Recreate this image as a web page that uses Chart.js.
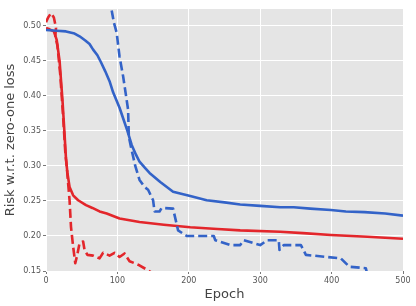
<!DOCTYPE html>
<html><head><meta charset="utf-8">
<script src="https://cdn.jsdelivr.net/npm/chart.js@4/dist/chart.umd.min.js"></script>
<style>html,body{margin:0;padding:0;background:#fff}#wrap{width:416px;height:306px}</style>
</head><body><div id="wrap"><canvas id="c" width="416" height="306"></canvas></div>
<script>
const yTicks = [0.15, 0.20, 0.25, 0.30, 0.35, 0.40, 0.45, 0.50];
const xTicks = [0, 100, 200, 300, 400, 500];

const redSolidEpoch = [0,5,11,15,19,23,26,28,30,33,38,45,56,65,75,85,103,131,165,202,240,272,328,360,399,450,500];
const redSolidRisk  = [0.497,0.495,0.492,0.48,0.45,0.395,0.345,0.31,0.29,0.27,0.258,0.251,0.244,0.24,0.235,0.232,0.225,0.22,0.216,0.2124,0.21,0.208,0.206,0.204,0.2014,0.199,0.196];

const redDashEpoch = [0,3,7,11,14,13,16,20,24,27,29,31,33,35,38,41,44,47,52,54,58,66,75,80,89,96,103,110,117,129,143,150];
const redDashRisk  = [0.505,0.512,0.518,0.512,0.497,0.485,0.472,0.43,0.37,0.32,0.30,0.275,0.251,0.213,0.185,0.161,0.174,0.19,0.192,0.18,0.173,0.172,0.168,0.176,0.172,0.176,0.17,0.175,0.164,0.159,0.151,0.146];

const blueSolidEpoch = [0,15,28,40,47,55,61,66,72,77,83,89,94,103,108,114,120,126,131,138,145,160,178,202,225,250,272,300,328,347,370,399,420,446,475,500];
const blueSolidRisk  = [0.494,0.493,0.492,0.489,0.485,0.479,0.474,0.466,0.458,0.448,0.435,0.421,0.405,0.383,0.368,0.35,0.33,0.316,0.306,0.298,0.29,0.277,0.263,0.257,0.251,0.248,0.245,0.243,0.241,0.241,0.239,0.237,0.235,0.234,0.232,0.229];

const blueDashEpoch = [92,95,99,103,108,113,115,116,119,125,131,138,143,150,152,159,162,178,185,197,235,237,258,272,277,300,310,326,327,333,357,364,413,425,448,450];
const blueDashRisk  = [0.522,0.505,0.49,0.456,0.428,0.394,0.38,0.342,0.327,0.30,0.28,0.27,0.266,0.251,0.235,0.235,0.24,0.239,0.208,0.2,0.2,0.194,0.187,0.187,0.194,0.187,0.194,0.194,0.18,0.187,0.187,0.173,0.168,0.156,0.154,0.145];

const RED = '#e3262b', BLUE = '#3363c8';
const pts = (xs, ys) => xs.map((x, i) => ({x: x, y: ys[i]}));
const ds = (xs, ys, color, dashed) => ({
  data: pts(xs, ys), borderColor: color, borderWidth: 2.6, pointRadius: 0,
  tension: 0, fill: false, borderDash: dashed ? [9, 4] : [], borderCapStyle: 'butt', borderJoinStyle: 'round'
});

const bgPlugin = {
  id: 'bg',
  beforeDraw(chart) {
    const a = chart.chartArea, ctx = chart.ctx;
    ctx.save(); ctx.fillStyle = '#e5e5e5';
    ctx.fillRect(a.left, a.top, a.right - a.left, a.bottom - a.top);
    ctx.restore();
  }
};

new Chart(document.getElementById('c'), {
  type: 'line',
  data: { datasets: [
    ds(blueSolidEpoch, blueSolidRisk, BLUE, false),
    ds(blueDashEpoch, blueDashRisk, BLUE, true),
    ds(redSolidEpoch, redSolidRisk, RED, false),
    ds(redDashEpoch, redDashRisk, RED, true)
  ]},
  options: {
    responsive: false, animation: false, devicePixelRatio: 1,
    layout: { padding: { top: 9, right: 13, left: 0, bottom: 0 } },
    plugins: { legend: { display: false }, tooltip: { enabled: false } },
    scales: {
      x: {
        type: 'linear', min: 0, max: 500,
        afterBuildTicks: s => { s.ticks = xTicks.map(v => ({value: v})); },
        afterFit: s => { s.height = 35; },
        border: { display: false },
        grid: { color: '#ffffff', lineWidth: 1, drawTicks: true, tickLength: 3, tickColor: '#555555', tickWidth: 0.8 },
        ticks: { color: '#555555', font: { family: 'DejaVu Sans', size: 8 }, padding: 2, maxRotation: 0 },
        title: { display: true, text: 'Epoch', color: '#444444', font: { family: 'DejaVu Sans', size: 13 }, padding: { top: 0, bottom: 4 } }
      },
      y: {
        type: 'linear', min: 0.15, max: 0.524,
        afterBuildTicks: s => { s.ticks = yTicks.map(v => ({value: v})); },
        afterFit: s => { s.width = 46; },
        border: { display: false },
        grid: { color: '#ffffff', lineWidth: 1, drawTicks: true, tickLength: 3, tickColor: '#555555', tickWidth: 0.8 },
        ticks: { color: '#555555', font: { family: 'DejaVu Sans', size: 8 }, padding: 2, callback: v => v.toFixed(2) },
        title: { display: true, text: 'Risk w.r.t. zero-one loss', color: '#444444', font: { family: 'DejaVu Sans', size: 13 }, padding: { top: 3, bottom: 0 } }
      }
    }
  },
  plugins: [bgPlugin]
});
</script></body></html>
